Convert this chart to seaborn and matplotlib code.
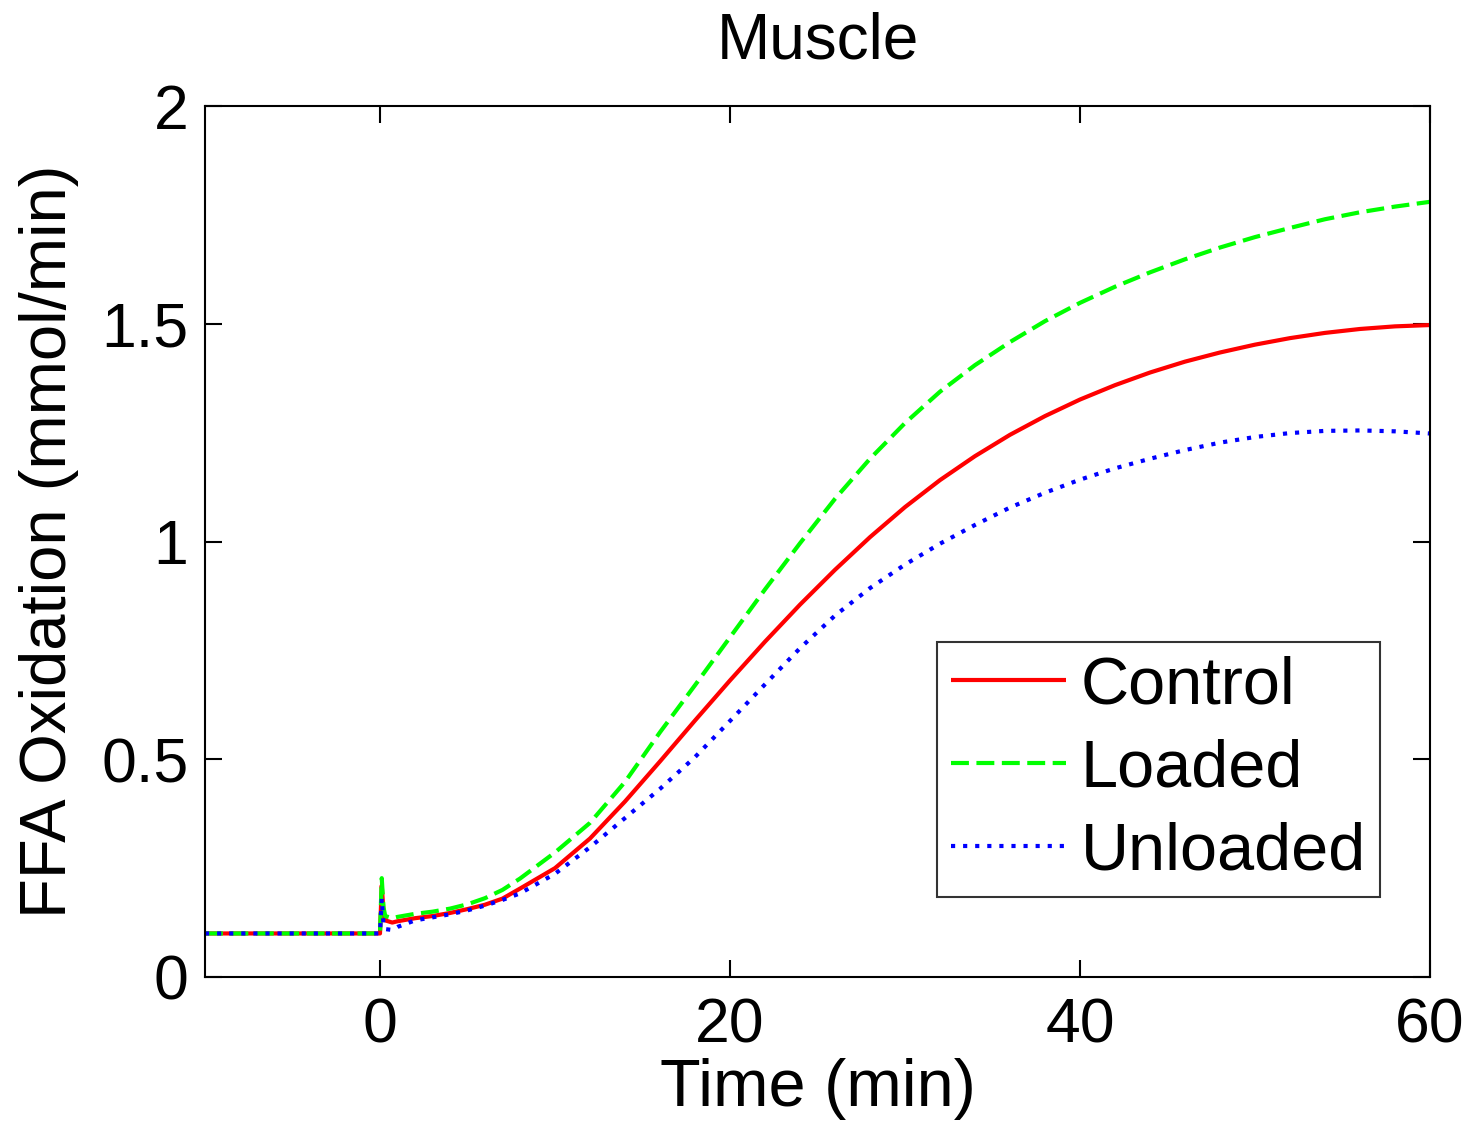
import numpy as np
import pandas as pd
import matplotlib
matplotlib.use("Agg")
import matplotlib.pyplot as plt
import seaborn as sns

# ---- data ----
time = [-10, 0.0, 0.1, 0.2, 0.3, 0.7, 1, 2, 3, 4, 5, 6, 7, 8, 10, 12, 14, 16, 18, 20,
        22, 24, 26, 28, 30, 32, 34, 36, 38, 40, 42, 44, 46, 48, 50, 52, 54, 56, 58, 60]
control = [0.10, 0.10, 0.21, 0.15, 0.13, 0.125, 0.128, 0.135, 0.140, 0.147, 0.156, 0.166, 0.180, 0.203,
           0.250, 0.318, 0.403, 0.495, 0.589, 0.681, 0.770, 0.855, 0.935, 1.010, 1.079, 1.141,
           1.196, 1.245, 1.288, 1.326, 1.359, 1.388, 1.413, 1.434, 1.452, 1.467, 1.479, 1.488,
           1.494, 1.497]
loaded = [0.10, 0.10, 0.227, 0.16, 0.14, 0.135, 0.138, 0.145, 0.150, 0.157, 0.167, 0.181, 0.200, 0.226,
          0.286, 0.354, 0.448, 0.562, 0.670, 0.780, 0.890, 0.996, 1.098, 1.190, 1.272, 1.344,
          1.405, 1.458, 1.506, 1.548, 1.585, 1.618, 1.648, 1.675, 1.699, 1.720, 1.740, 1.756,
          1.769, 1.780]
unloaded = [0.10, 0.10, 0.18, 0.12, 0.11, 0.108, 0.115, 0.130, 0.137, 0.144, 0.153, 0.164, 0.177, 0.192,
            0.237, 0.298, 0.365, 0.432, 0.505, 0.588, 0.672, 0.755, 0.830, 0.893, 0.947, 0.995,
            1.038, 1.078, 1.112, 1.142, 1.168, 1.190, 1.210, 1.227, 1.240, 1.249, 1.254, 1.255,
            1.253, 1.248]
series_names = ["Control", "Loaded", "Unloaded"]
series_colors = ["#ff0000", "#00ff00", "#0000ff"]
x_ticks = [0, 20, 40, 60]
y_ticks = [0, 0.5, 1, 1.5, 2]
y_ticklabels = ["0", "0.5", "1", "1.5", "2"]

sns.set_style("white")
plt.rcParams["font.family"] = ["Liberation Sans", "DejaVu Sans"]
plt.rcParams["text.color"] = "black"
plt.rcParams["axes.labelcolor"] = "black"

fig = plt.figure(figsize=(14.7, 11.24), dpi=100)
ax = fig.add_axes([205 / 1470, 1 - 977 / 1124, 1225 / 1470, 871 / 1124])

styles = [(0, ()), (0, (4.3, 1.8)), (0, (1.0, 1.9))]
for name, vals, col, ls in zip(series_names, [control, loaded, unloaded], series_colors, styles):
    df = pd.DataFrame({"Time": time, "Value": vals})
    sns.lineplot(data=df, x="Time", y="Value", ax=ax, color=col, estimator=None,
                 sort=False, linewidth=3, label=name)
    ax.lines[-1].set_linestyle(ls)

ax.set_xlim(-10, 60)
ax.set_ylim(0, 2)
ax.set_xticks(x_ticks)
ax.set_xticklabels([str(v) for v in x_ticks])
ax.set_yticks(y_ticks)
ax.set_yticklabels(y_ticklabels)
ax.tick_params(axis="both", which="both", direction="in", length=12, width=1.5,
               top=True, right=True, bottom=True, left=True,
               labelsize=45, colors="black")
ax.tick_params(axis="x", pad=14)
ax.tick_params(axis="y", pad=12)
for sp in ax.spines.values():
    sp.set_visible(True)
    sp.set_color("black")
    sp.set_linewidth(1.5)

ax.set_xlabel("Time (min)", fontsize=48, labelpad=2, color="black")
ax.set_ylabel("FFA Oxidation (mmol/min)", fontsize=47, labelpad=16, color="black")
ax.set_title("Muscle", fontsize=46, pad=34, color="black")

leg = ax.legend(loc="lower right", bbox_to_anchor=(0.959, 0.0918), fontsize=48,
                frameon=True, fancybox=False, handlelength=1.72, handletextpad=0.22,
                labelspacing=0.31, borderpad=0.21, borderaxespad=0)
leg.get_frame().set_edgecolor("black")
leg.get_frame().set_linewidth(1.5)
for t in leg.get_texts():
    t.set_color("black")

fig.savefig("out.png", dpi=100, facecolor="white")
